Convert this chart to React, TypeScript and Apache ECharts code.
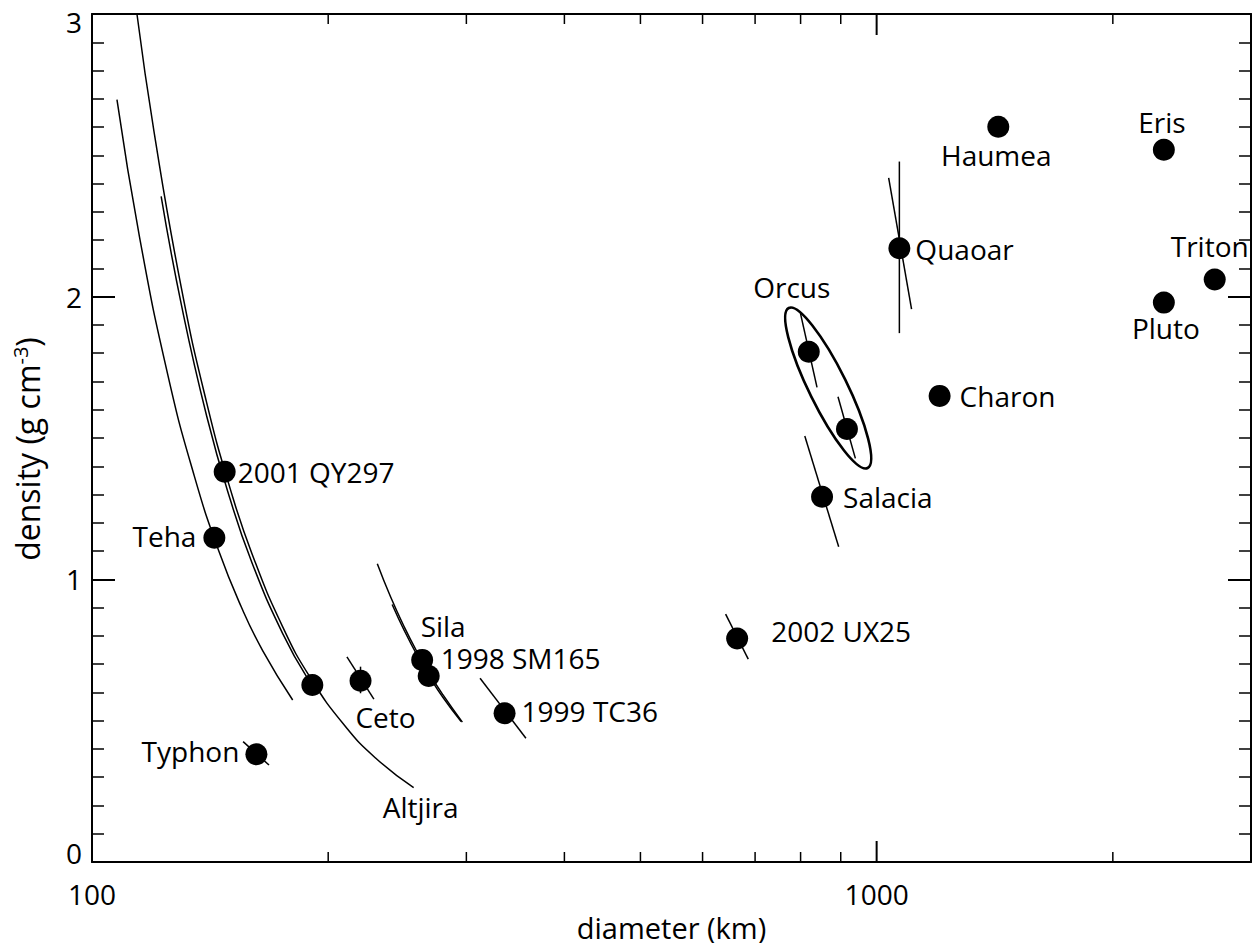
import React, { useEffect, useRef } from 'react';
import * as echarts from 'echarts';

// ---- data ----
const objectNames = ['2001 QY297', 'Teha', '', 'Typhon', 'Ceto', 'Sila', '1998 SM165', '1999 TC36', '2002 UX25', 'Orcus', '', 'Salacia', 'Quaoar', 'Charon', 'Haumea', 'Eris', 'Pluto', 'Triton'];
const diameters = [147.6, 143.2, 190.9, 162.0, 219.9, 263.5, 268.6, 335.6, 664.1, 819.4, 916.6, 852.0, 1069, 1203, 1429, 2323, 2323, 2697];
const densities = [1.381, 1.147, 0.626, 0.381, 0.641, 0.715, 0.658, 0.526, 0.791, 1.805, 1.532, 1.292, 2.171, 1.649, 2.601, 2.520, 1.979, 2.061];

// error segments: [D1, rho1, D2, rho2]
const errorSegments = [
  [155.8, 0.426, 168.1, 0.343],
  [211.3, 0.726, 228.7, 0.576],
  [219.9, 0.691, 219.9, 0.597],
  [312.3, 0.650, 357.3, 0.438],
  [642.0, 0.877, 686.1, 0.718],
  [809.9, 1.507, 894.6, 1.115],
  [799.7, 1.941, 839.5, 1.679],
  [892.8, 1.646, 939.5, 1.428],
  [1069, 2.478, 1069, 1.871],
  [1035.9, 2.420, 1107.9, 1.956],
];

// Orcus ellipse: tips of major axis [D1, rho1, D2, rho2]
const orcusEllipse = [[772.7, 1.960, 973.9, 1.394]];

// constant-mass curves
const curveAltjira = [[114.1, 3.0], [120, 2.581], [130, 2.030], [140, 1.625], [150, 1.321], [160, 1.089], [175, 0.832], [190, 0.650], [210, 0.482], [230, 0.367], [257, 0.263]];
const curveQY297 = [[122.5, 2.355], [130, 1.971], [140, 1.578], [150, 1.283], [160, 1.057], [175, 0.808], [188, 0.652]];
const curveTeha = [[107.6, 2.697], [115, 2.209], [125, 1.720], [135, 1.366], [145, 1.102], [155, 0.902], [165, 0.748], [180.2, 0.573]];
const curveSila = [[231, 1.055], [240, 0.940], [250, 0.832], [260, 0.740], [270, 0.660], [280, 0.592], [296.5, 0.495]];
const curveSM165 = [[241.3, 0.911], [250, 0.819], [260, 0.728], [270, 0.650], [280, 0.583], [295.4, 0.497]];
const altjiraLabelPoint = [[257, 0.263]];

const xMinorTicks = [200, 300, 400, 500, 600, 700, 800, 900, 2000];
const xMajorTicks = [1000];

// label placement: [dx, dy, align]
const labelPlacement: Record<string, [number, number, string]> = {
  '2001 QY297': [13, 0, 'left'],
  'Teha': [-18, -2, 'right'],
  'Typhon': [-17, -3, 'right'],
  'Ceto': [25, 36, 'center'],
  'Sila': [21, -34, 'center'],
  '1998 SM165': [12, -18, 'left'],
  '1999 TC36': [17, -2, 'left'],
  '2002 UX25': [34, -7, 'left'],
  'Orcus': [-17, -65, 'center'],
  'Salacia': [21, 0, 'left'],
  'Quaoar': [16, 1, 'left'],
  'Charon': [20, 0, 'left'],
  'Haumea': [-2, 28, 'center'],
  'Eris': [-2, -28, 'center'],
  'Pluto': [2, 25, 'center'],
  'Triton': [-5, -33, 'center'],
};

const FONT = 'Open Sans';
const txt = { color: '#000', fontFamily: FONT, fontSize: 28 };
const titleTxt = { color: '#000', fontFamily: FONT, fontSize: 32 };

function curveSeries(data: number[][]) {
  return {
    type: 'line', data, smooth: true, showSymbol: false, symbol: 'none', silent: true, z: 2,
    lineStyle: { color: '#000', width: 1.5, opacity: 1 },
  };
}

function tickSeries(values: number[], len: number, width: number) {
  return {
    type: 'custom', silent: true, clip: false, z: 5,
    data: values.map((v) => [v, 0]),
    encode: { x: 0, y: 1 },
    renderItem: (params: any, api: any) => {
      const v = api.value(0);
      const b = api.coord([v, 0]);
      const t = api.coord([v, 3]);
      const style = { stroke: '#000', lineWidth: width };
      return {
        type: 'group',
        children: [
          { type: 'line', shape: { x1: b[0], y1: b[1], x2: b[0], y2: b[1] - len }, style },
          { type: 'line', shape: { x1: t[0], y1: t[1], x2: t[0], y2: t[1] + len }, style },
        ],
      };
    },
  };
}

export default function App() {
  const ref = useRef<HTMLDivElement>(null);
  useEffect(() => {
    document.body.style.margin = '0';
    const chart = echarts.init(ref.current!, null, { renderer: 'svg' });

    const pointData = diameters.map((d, i) => {
      const name = objectNames[i];
      const item: any = { name, value: [d, densities[i]] };
      const p = labelPlacement[name];
      if (name && p) {
        item.label = { show: true, position: 'inside', offset: [p[0], p[1]], align: p[2], verticalAlign: 'middle', formatter: '{b}', ...txt };
      }
      return item;
    });

    const yAxisBase = {
      type: 'value', min: 0, max: 3, interval: 1,
      axisLine: { show: true, onZero: false, lineStyle: { color: '#000', width: 2 } },
      axisTick: { show: true, inside: true, length: 23, lineStyle: { color: '#000', width: 2 } },
      minorTick: { show: true, splitNumber: 10, length: 12, lineStyle: { color: '#000', width: 1.5 } },
      splitLine: { show: false }, minorSplitLine: { show: false },
    };

    const option: any = {
      animation: false,
      backgroundColor: '#fff',
      grid: { left: 92, top: 14, width: 1159, height: 848, containLabel: false, outerBoundsMode: 'none' },
      xAxis: [
        {
          type: 'log', logBase: 10, min: 100, max: 3000, position: 'bottom',
          axisLine: { show: true, onZero: false, lineStyle: { color: '#000', width: 2 } },
          axisTick: { show: false }, splitLine: { show: false },
          axisLabel: { ...txt, margin: 18, showMaxLabel: false, formatter: (v: number) => String(Math.round(v)) },
          name: 'diameter (km)', nameLocation: 'middle', nameGap: 39,
          nameTextStyle: { ...titleTxt, fontSize: 29, lineHeight: 30 },
        },
        {
          type: 'log', logBase: 10, min: 100, max: 3000, position: 'top',
          axisLine: { show: true, onZero: false, lineStyle: { color: '#000', width: 2 } },
          axisTick: { show: false }, axisLabel: { show: false }, splitLine: { show: false },
        },
      ],
      yAxis: [
        {
          ...yAxisBase,
          position: 'left',
          axisLabel: {
            ...txt, margin: 10,
            formatter: (v: number) => (v === 0 ? '{bot|0}' : v === 3 ? '{top|3}' : String(v)),
            rich: { bot: { ...txt, padding: [0, 0, 18, 0] }, top: { ...txt, padding: [16, 0, 0, 0] } },
          },
          name: 'density (g cm{sup|-3})', nameLocation: 'middle', nameGap: 48, nameRotate: 90,
          nameTextStyle: {
            ...titleTxt, padding: [0, 22, 0, 0],
            rich: { sup: { color: '#000', fontFamily: FONT, fontSize: 20, verticalAlign: 'top', lineHeight: 34 } },
          },
        },
        { ...yAxisBase, position: 'right', axisLabel: { show: false } },
      ],
      series: [
        curveSeries(curveAltjira), curveSeries(curveQY297), curveSeries(curveTeha), curveSeries(curveSila), curveSeries(curveSM165),
        {
          type: 'custom', silent: true, z: 2, data: errorSegments, encode: { x: [0, 2], y: [1, 3] },
          renderItem: (params: any, api: any) => {
            const p1 = api.coord([api.value(0), api.value(1)]);
            const p2 = api.coord([api.value(2), api.value(3)]);
            return { type: 'line', shape: { x1: p1[0], y1: p1[1], x2: p2[0], y2: p2[1] }, style: { stroke: '#000', lineWidth: 1.5 } };
          },
        },
        {
          type: 'custom', silent: true, z: 2, data: orcusEllipse, encode: { x: [0, 2], y: [1, 3] },
          renderItem: (params: any, api: any) => {
            const p1 = api.coord([api.value(0), api.value(1)]);
            const p2 = api.coord([api.value(2), api.value(3)]);
            const dx = p2[0] - p1[0];
            const dy = p2[1] - p1[1];
            const len = Math.sqrt(dx * dx + dy * dy) / 2;
            return {
              type: 'ellipse', x: (p1[0] + p2[0]) / 2, y: (p1[1] + p2[1]) / 2, rotation: -Math.atan2(dy, dx),
              shape: { cx: 0, cy: 0, rx: len, ry: 19 }, style: { fill: 'none', stroke: '#000', lineWidth: 2.6 },
            };
          },
        },
        tickSeries(xMinorTicks, 10, 1.5),
        tickSeries(xMajorTicks, 21, 2),
        {
          type: 'scatter', symbol: 'circle', symbolSize: 22, z: 4, silent: true,
          itemStyle: { color: '#000', opacity: 1 }, emphasis: { disabled: true }, data: pointData,
        },
        {
          type: 'scatter', symbolSize: 1, z: 4, silent: true,
          itemStyle: { color: 'rgba(0,0,0,0)', opacity: 1 }, emphasis: { disabled: true },
          data: altjiraLabelPoint.map((p) => ({
            name: 'Altjira', value: p,
            label: { show: true, position: 'inside', offset: [7, 19], align: 'center', verticalAlign: 'middle', formatter: '{b}', ...txt },
          })),
        },
      ],
    };
    chart.setOption(option);
    return () => chart.dispose();
  }, []);
  return <div ref={ref} style={{ width: 1252, height: 943 }} />;
}
